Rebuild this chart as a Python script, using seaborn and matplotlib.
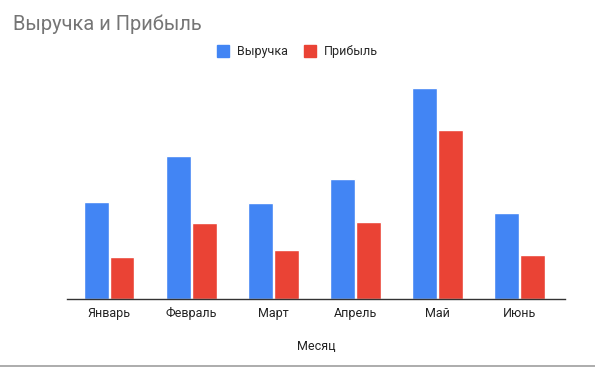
import numpy as np
import pandas as pd
import seaborn as sns
import matplotlib.pyplot as plt
from matplotlib.lines import Line2D

months = ["Январь", "Февраль", "Март", "Апрель", "Май", "Июнь"]
revenue = [97, 142, 96, 119, 210, 86]
profit = [42, 76, 49, 77, 168, 44]

df = pd.DataFrame({
    "Месяц": months * 2,
    "value": revenue + profit,
    "series": ["Выручка"] * 6 + ["Прибыль"] * 6,
})

sns.set_theme(style="white")
plt.rcParams["font.family"] = ["Roboto", "DejaVu Sans"]

fig = plt.figure(figsize=(5.95, 3.69), dpi=100)
ax = fig.add_axes([0.113, 0.19, 0.836, 0.62])

colors = {"Выручка": "#4285F4", "Прибыль": "#EA4335"}
sns.barplot(data=df, x="Месяц", y="value", hue="series", palette=colors,
            width=0.63, gap=0.04, saturation=1, ax=ax, legend=False)

ax.set_ylim(0, 228)
ax.set_xlim(-0.51, 5.55)
ax.set_yticks([])
ax.set_ylabel("")
for s in ["top", "right", "left"]:
    ax.spines[s].set_visible(False)
ax.spines["bottom"].set_color("#333333")
ax.spines["bottom"].set_linewidth(1)
ax.tick_params(axis="x", length=0, pad=6, labelsize=9, labelcolor="#222222")
ax.set_xlabel("Месяц", fontsize=9, color="#222222", labelpad=14)

fig.text(0.022, 0.935, "Выручка и Прибыль", fontsize=14.4, color="#757575",
         ha="left", va="center")

handles = [Line2D([], [], marker="s", linestyle="", markersize=8,
                  color=colors[k]) for k in colors]
fig.legend(handles, list(colors.keys()), loc="center", bbox_to_anchor=(0.50, 0.86),
           ncol=2, frameon=False, fontsize=9, handletextpad=0.6,
           columnspacing=1.3, handlelength=1.0)

fig.add_artist(Line2D([0, 1], [0.007, 0.007], color="#9e9e9e", linewidth=1.2,
                      transform=fig.transFigure))

fig.savefig("out.png", dpi=100)
